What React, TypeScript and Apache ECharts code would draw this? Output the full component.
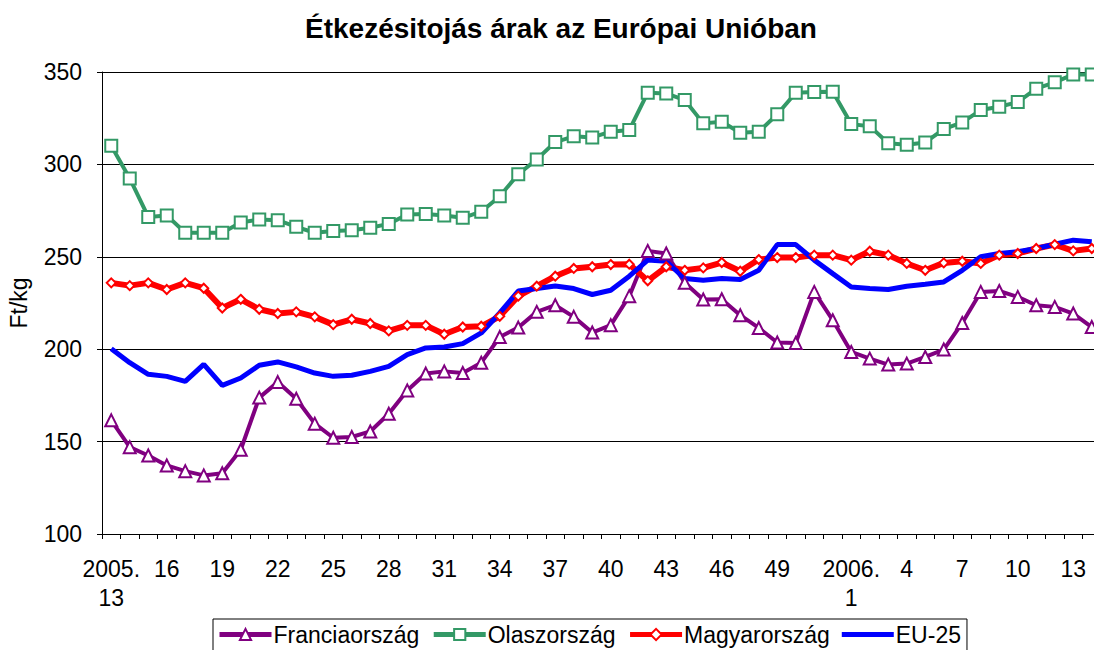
import React, { useEffect, useRef } from "react";
import * as echarts from "echarts";

const weekLabels: string[] = [
  "2005.\n13", "14", "15", "16", "17", "18", "19", "20", "21", "22", "23", "24", "25", "26", "27", "28",
  "29", "30", "31", "32", "33", "34", "35", "36", "37", "38", "39", "40", "41", "42", "43", "44",
  "45", "46", "47", "48", "49", "50", "51", "52",
  "2006.\n1", "2", "3", "4", "5", "6", "7", "8", "9", "10", "11", "12", "13", "14",
];

const francia: number[] = [
  161.5, 147, 142.5, 137.1, 134, 131.7, 132.9, 145.6, 173.8, 182.2, 173.2, 159.7, 152.1, 152.5, 155.5, 165.1,
  177.7, 186.8, 188, 187.1, 192.7, 206.6, 211.7, 220.2, 223.8, 217.5, 209, 213, 228.7, 253.2, 251.8, 235.9,
  226.9, 227, 218.4, 211.5, 203.6, 203.4, 231, 215.7,
  198.5, 194.9, 191.7, 192.2, 195.8, 199.8, 214.2, 231, 231.5, 228.3, 223.8, 222.9, 219.3, 212,
];

const olasz: number[] = [
  310.1, 292.4, 271.6, 272.4, 263, 263, 263, 268.6, 270.2, 269.8, 266.2, 263, 263.9, 264.4, 265.7, 267.8,
  272.9, 273.1, 272.4, 271.1, 274.4, 282.8, 294.7, 302.7, 312.1, 315.2, 314.6, 317.7, 318.6, 338.8, 338.4, 334.8,
  322.2, 323.1, 317.1, 317.7, 327.1, 338.8, 339.2, 339.3,
  321.8, 320.7, 311.4, 310.6, 311.9, 319.1, 322.7, 329.4, 331.2, 333.7, 341, 344.4, 348.7, 348.7,
];

const magyar: number[] = [
  235.9, 234.4, 235.9, 232.3, 235.9, 233, 222.3, 227, 221.6, 219.3, 220.2, 217.5, 213.3, 216.2, 213.9, 209.9,
  212.9, 212.9, 208.1, 212, 212.4, 217.8, 228.7, 234.1, 239.5, 243.7, 244.6, 245.8, 246, 237, 244.6, 242.7,
  244, 246.9, 242.2, 248.5, 249.6, 249.6, 250.9, 250.9,
  248.2, 253, 250.9, 246.4, 242.7, 246.7, 247.6, 246.4, 250.9, 251.8, 254.5, 256.6, 253.2, 254.5,
];

const eu25: number[] = [
  200.3, 192.7, 186.4, 185.3, 182.6, 191.8, 180.4, 184.4, 191.3, 193.1, 190.4, 187.1, 185.3, 185.9, 188, 190.7,
  197.1, 200.7, 201.2, 203, 208.8, 219.6, 231.5, 232.8, 234.2, 232.8, 229.6, 231.9, 239.5, 248.2, 247.6, 238.2,
  237.3, 238.2, 237.7, 242.7, 256.6, 256.6, 248.2, 240.9,
  233.7, 232.8, 232.3, 234.1, 235.2, 236.4, 242.7, 250, 251.8, 252.7, 254.5, 256.8, 259, 258.1,
];

const FONT = "Arial, 'Liberation Sans', sans-serif";
const LINE_ICON = "path://M0,0 L0.05,0 L0.05,0.05 Z M0,4.5 L52,4.5 L52,9.5 L0,9.5 Z M51.95,14 L52,14 L52,13.95 Z";

export default function App() {
  const ref = useRef<HTMLDivElement>(null);
  useEffect(() => {
    if (!ref.current) return;
    const chart = echarts.init(ref.current, undefined, { renderer: "svg" });
    chart.setOption({
      animation: false,
      backgroundColor: "#fff",
      textStyle: { fontFamily: FONT },
      title: {
        text: "Étkezésitojás árak az Európai Unióban",
        left: 300,
        top: 9,
        textStyle: { fontSize: 28, fontWeight: "bold", color: "#000", fontFamily: FONT },
      },
      legend: {
        top: 619,
        left: 213,
        borderColor: "#000",
        borderWidth: 1,
        padding: [4, 6, 8, 4],
        itemGap: 12,
        itemWidth: 52,
        itemHeight: 14,
        lineStyle: { width: 5 },
        textStyle: { fontSize: 23, color: "#000", fontFamily: FONT, padding: [0, 0, 0, -3] },
        data: [
          "Franciaország",
          "Olaszország",
          "Magyarország",
          { name: "EU-25", icon: LINE_ICON, itemStyle: { color: "#0000ff" } },
        ],
      },
      grid: { left: 102, top: 72, height: 462, width: 999, outerBoundsMode: "none", containLabel: false },
      xAxis: {
        type: "category",
        data: weekLabels,
        boundaryGap: true,
        axisLine: { lineStyle: { color: "#000", width: 1 } },
        axisTick: { show: true, interval: 0, length: 5, lineStyle: { color: "#000" } },
        axisLabel: {
          interval: (i: number) => (i <= 36 ? i % 3 === 0 : i >= 40 && (i - 40) % 3 === 0),
          fontSize: 23,
          color: "#000",
          fontFamily: FONT,
          lineHeight: 29,
          margin: 20,
        },
      },
      yAxis: {
        type: "value",
        min: 100,
        max: 350,
        interval: 50,
        name: "Ft/kg",
        nameLocation: "middle",
        nameGap: 72,
        nameRotate: 90,
        nameTextStyle: { fontSize: 23, color: "#000", fontFamily: FONT },
        axisLine: { show: true, lineStyle: { color: "#000", width: 1 } },
        axisTick: { show: true, length: 5, lineStyle: { color: "#000" } },
        axisLabel: { fontSize: 23, color: "#000", fontFamily: FONT, margin: 20 },
        splitLine: { show: true, lineStyle: { color: "#000", width: 1 } },
      },
      series: [
        {
          name: "Franciaország",
          type: "line",
          data: francia,
          symbol: "triangle",
          symbolSize: 12,
          lineStyle: { color: "#800080", width: 4 },
          itemStyle: { color: "#fff", borderColor: "#800080", borderWidth: 2 },
          color: "#800080",
        },
        {
          name: "Olaszország",
          type: "line",
          data: olasz,
          symbol: "rect",
          symbolSize: 12,
          lineStyle: { color: "#339966", width: 4 },
          itemStyle: { color: "#fff", borderColor: "#339966", borderWidth: 2 },
          color: "#339966",
        },
        {
          name: "Magyarország",
          type: "line",
          data: magyar,
          symbol: "diamond",
          symbolSize: 9,
          lineStyle: { color: "#ff0000", width: 6 },
          itemStyle: { color: "#fff", borderColor: "#ff0000", borderWidth: 2 },
          color: "#ff0000",
        },
        {
          name: "EU-25",
          type: "line",
          data: eu25,
          symbol: "none",
          showSymbol: false,
          lineStyle: { color: "#0000ff", width: 5 },
          itemStyle: { color: "#0000ff" },
          color: "#0000ff",
        },
      ],
    });
    return () => chart.dispose();
  }, []);
  return (
    <div
      ref={ref}
      style={{ position: "absolute", left: 0, top: 0, width: 1094, height: 650, overflow: "hidden" }}
    />
  );
}
